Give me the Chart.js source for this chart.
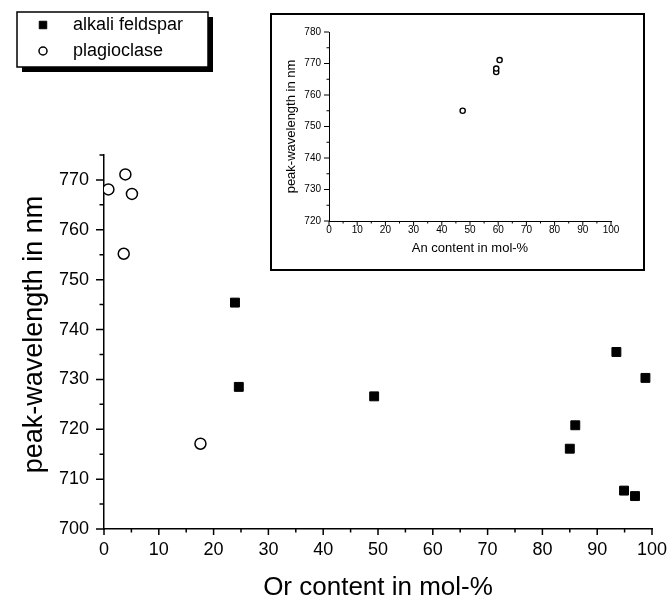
<!DOCTYPE html>
<html>
<head>
<meta charset="utf-8">
<script src="https://cdn.jsdelivr.net/npm/chart.js@4.4.1/dist/chart.umd.min.js"></script>
<style>
  body { margin: 0; background: #fff; }
  #wrap { position: relative; width: 669px; height: 598px; }
  #wrap canvas { display: block; }
  #inset { position: absolute; left: 270px; top: 13px; width: 375px; height: 258px;
           border: 2px solid #000; box-sizing: border-box; background: #fff; }
</style>
</head>
<body>
<div id="wrap">
  <canvas id="main" width="669" height="598"></canvas>
  <div id="inset"><canvas id="small" width="371" height="254"></canvas></div>
</div>
<script>
// main plot: Or content vs peak wavelength
const alkaliOr   = [23.9, 24.6, 49.3, 85.0, 86.0, 93.5, 94.9, 96.9, 98.8];
const alkaliPeak = [745.4, 728.5, 726.6, 716.1, 720.8, 735.5, 707.7, 706.6, 730.3];
const plagOr     = [0.8, 3.9, 5.1, 3.6, 17.6];
const plagPeak   = [768.1, 771.1, 767.2, 755.2, 717.1];

// inset: An content of the plagioclases
const plagAn     = [47.4, 59.3, 59.3, 60.5];
const plagAnPeak = [755.0, 767.3, 768.4, 771.1];

const FONT = "'Liberation Sans', Arial, sans-serif";

function pts(xs, ys) {
    return xs.map((x, i) => ({x: x, y: ys[i]}));
}

// major + minor tick marks (Chart.js has no minor ticks)
const tickMarks = {
    id: 'tickMarks',
    beforeDatasetsDraw(chart, args, o) {
        const ctx = chart.ctx;
        const xs = chart.scales.x, ys = chart.scales.y;
        ctx.save();
        ctx.strokeStyle = '#000';
        ctx.lineWidth = o.width;
        ctx.beginPath();
        for (let v = xs.min; v <= xs.max + 1e-6; v += 5) {
            const px = xs.getPixelForValue(v);
            const len = (Math.round(v) % 10 === 0) ? o.xMajor : o.xMinor;
            ctx.moveTo(px, xs.top);
            ctx.lineTo(px, xs.top + len);
        }
        for (let v = ys.min; v <= ys.max + 1e-6; v += 5) {
            const py = ys.getPixelForValue(v);
            const len = (Math.round(v) % 10 === 0) ? o.yMajor : o.yMinor;
            ctx.moveTo(ys.right, py);
            ctx.lineTo(ys.right - len, py);
        }
        ctx.stroke();
        ctx.restore();
    }
};

// boxed legend with drop shadow, top left
const boxLegend = {
    id: 'boxLegend',
    afterDraw(chart, args, o) {
        if (!o.display) return;
        const ctx = chart.ctx;
        ctx.save();
        ctx.fillStyle = '#000';
        ctx.fillRect(o.x + 5, o.y + 5, o.w, o.h);
        ctx.fillStyle = '#fff';
        ctx.fillRect(o.x, o.y, o.w, o.h);
        ctx.lineWidth = 1.5;
        ctx.strokeStyle = '#000';
        ctx.strokeRect(o.x, o.y, o.w, o.h);
        ctx.font = o.size + 'px ' + FONT;
        ctx.textBaseline = 'middle';
        chart.data.datasets.forEach((ds, i) => {
            const cy = o.y + 13 + i * 26;
            ctx.fillStyle = ds.backgroundColor;
            ctx.strokeStyle = ds.borderColor;
            ctx.lineWidth = ds.borderWidth;
            Chart.helpers.drawPoint(ctx, {pointStyle: ds.pointStyle, radius: o.radius[i], borderWidth: ds.borderWidth}, o.x + 26, cy);
            ctx.fillStyle = '#000';
            ctx.fillText(ds.label, o.x + 56, cy);
        });
        ctx.restore();
    }
};

// fixed axis box sizes so the plot area sits where the original has it
function fixX(h) {
    return function(s) { s.height = h; s.paddingLeft = 0; s.paddingRight = 0; };
}
function fixY(w) {
    return function(s) { s.width = w; s.paddingTop = 0; s.paddingBottom = 0; };
}

let mainConfig = {
    type: 'scatter',
    data: {
        datasets: [{
            label: 'alkali feldspar',
            data: pts(alkaliOr, alkaliPeak),
            pointStyle: 'rect',
            pointRadius: 6.3,
            backgroundColor: '#000',
            borderColor: '#000',
            borderWidth: 1,
            clip: 0
        }, {
            label: 'plagioclase',
            data: pts(plagOr, plagPeak),
            pointStyle: 'circle',
            pointRadius: 5.5,
            backgroundColor: '#fff',
            borderColor: '#000',
            borderWidth: 1.5,
            clip: 0
        }]
    },
    options: {
        responsive: false,
        animation: false,
        layout: {padding: {top: 155, right: 17, left: 0, bottom: 0}},
        plugins: {
            legend: {display: false},
            tooltip: {enabled: false},
            tickMarks: {width: 1.5, xMajor: 6, xMinor: 3.5, yMajor: 8, yMinor: 4.5},
            boxLegend: {display: true, x: 17, y: 12, w: 191, h: 55, size: 18, radius: [5.3, 4]}
        },
        scales: {
            x: {
                type: 'linear',
                min: 0,
                max: 100,
                ticks: {stepSize: 10, padding: 10, color: '#000', maxRotation: 0, autoSkip: false,
                        font: {family: FONT, size: 18}},
                grid: {display: false, drawTicks: false},
                border: {display: true, color: '#000', width: 1.5},
                title: {display: true, text: 'Or content in mol-%', color: '#000', padding: 0,
                        font: {family: FONT, size: 26, lineHeight: 0.8}},
                afterFit: fixX(69)
            },
            y: {
                type: 'linear',
                min: 700,
                max: 775,
                ticks: {stepSize: 10, includeBounds: false, padding: 15, color: '#000',
                        font: {family: FONT, size: 18}},
                grid: {display: false, drawTicks: false},
                border: {display: true, color: '#000', width: 1.5},
                title: {display: true, text: '  peak-wavelength in nm', color: '#000',
                        padding: {top: 18, bottom: 0}, font: {family: FONT, size: 27}},
                afterFit: fixY(104)
            }
        }
    },
    plugins: [tickMarks, boxLegend]
};

let insetConfig = {
    type: 'scatter',
    data: {
        datasets: [{
            label: 'plagioclase',
            data: pts(plagAn, plagAnPeak),
            pointStyle: 'circle',
            pointRadius: 2.6,
            backgroundColor: '#fff',
            borderColor: '#000',
            borderWidth: 1.4
        }]
    },
    options: {
        responsive: false,
        animation: false,
        layout: {padding: {top: 17, right: 32, left: 0, bottom: 0}},
        plugins: {
            legend: {display: false},
            tooltip: {enabled: false},
            tickMarks: {width: 1, xMajor: 5, xMinor: 2.5, yMajor: 5, yMinor: 2.5},
            boxLegend: {display: false}
        },
        scales: {
            x: {
                type: 'linear',
                min: 0,
                max: 100,
                ticks: {stepSize: 10, padding: 3, color: '#000', maxRotation: 0, autoSkip: false,
                        font: {family: FONT, size: 10}},
                grid: {display: false, drawTicks: false},
                border: {display: true, color: '#000', width: 1},
                title: {display: true, text: 'An content in mol-%', color: '#000',
                        padding: {top: 0, bottom: 13}, font: {family: FONT, size: 13}},
                afterFit: fixX(48)
            },
            y: {
                type: 'linear',
                min: 720,
                max: 780,
                ticks: {stepSize: 10, padding: 8, color: '#000', font: {family: FONT, size: 10}},
                grid: {display: false, drawTicks: false},
                border: {display: true, color: '#000', width: 1},
                title: {display: true, text: 'peak-wavelength in nm', color: '#000',
                        padding: {top: 12, bottom: 0}, font: {family: FONT, size: 13}},
                afterFit: fixY(57)
            }
        }
    },
    plugins: [tickMarks, boxLegend]
};

new Chart(document.getElementById('main').getContext('2d'), mainConfig);
new Chart(document.getElementById('small').getContext('2d'), insetConfig);
</script>
</body>
</html>
